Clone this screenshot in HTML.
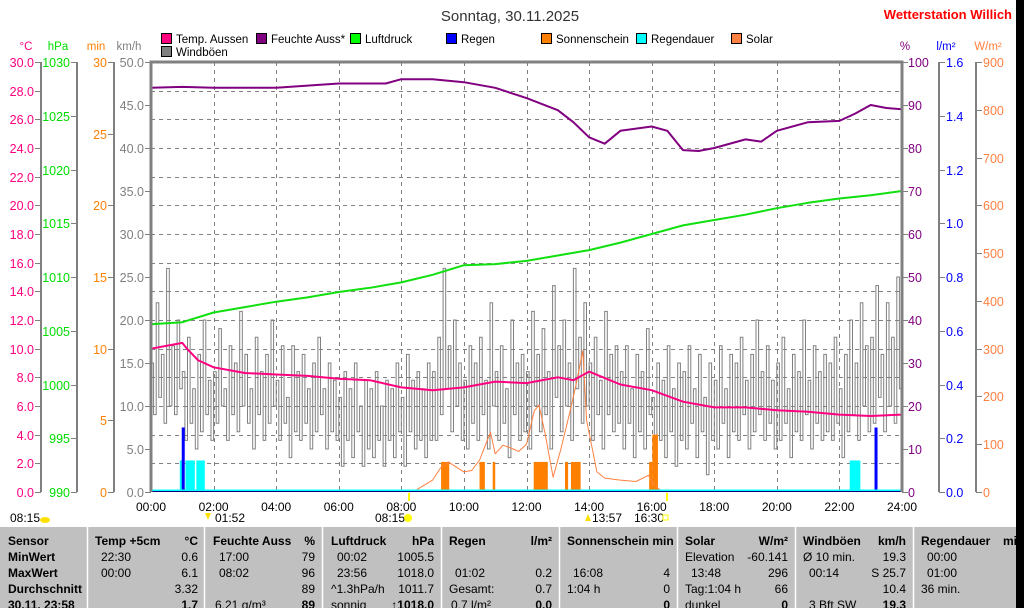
<!DOCTYPE html>
<html><head><meta charset="utf-8"><style>
html,body{margin:0;padding:0;background:#fff;width:1024px;height:608px;overflow:hidden}
svg{display:block;font-family:"Liberation Sans",sans-serif}
</style></head><body>
<svg id="c" width="1024" height="608" viewBox="0 0 1024 608" xmlns="http://www.w3.org/2000/svg">
<rect x="0" y="0" width="1024" height="608" fill="#fff"/>
<g id="g"></g>
</svg>
<script>
// ---- data ----
const humTimes=[0,1,2,4,6,7.5,8,9,10,11,12,13,13.5,14,14.5,15,16,16.5,17,17.5,18,19,19.5,20,21,22,22.5,23,23.5,24];
const humVals=[94,94.2,94,94,95,95,96,96,95.3,94,91.6,88.8,86,82.5,81,84,85,84,79.5,79.3,80,82,81.5,84,86,86.3,88,90,89.3,89];
const presTimes=[0,1,2,3,4,5,6,7,8,9,10,11,12,13,14,15,16,17,18,19,20,21,22,23,24];
const presVals=[1005.6,1005.8,1006.7,1007.2,1007.7,1008.1,1008.6,1009.0,1009.5,1010.2,1011.1,1011.2,1011.5,1012.0,1012.5,1013.2,1014.0,1014.8,1015.3,1015.8,1016.4,1016.9,1017.3,1017.6,1018.0];
const tempTimes=[0,1,1.15,1.5,2,3,4,5,6,7,8,9,10,11,12,13,13.5,14,15,16,17,18,19,20,21,22,23,24];
const tempVals=[10.0,10.4,10.0,9.2,8.7,8.3,8.2,8.1,7.9,7.8,7.3,7.1,7.3,7.7,7.6,8.0,7.8,8.4,7.5,7.1,6.3,5.9,5.9,5.7,5.6,5.4,5.3,5.4];
// gust highs per 10-min bin
const gustVals=[15,22,16,26,17,20, 14,18,12,16,20,13, 14,19,12,17,15,21, 16,12,18,14,16,20, 13,17,11,17,14,16, 12,15,18,12,15,13,
 11,14,12,15,10,13, 12,14,10,13,12,15, 11,16,13,14,12,15, 14,18,26,17,20,15, 13,17,15,18,13,22, 14,17,12,20,15,16,
 14,21,16,19,14,24, 17,20,15,26,18,22, 15,18,13,21,16,17, 14,17,12,16,14,19, 11,15,13,17,12,15, 14,17,12,16,11,15,
 13,17,12,16,15,18, 13,16,20,14,17,13, 15,18,12,16,14,20, 13,17,14,16,15,18, 12,16,20,15,22,17, 18,24,16,22,18,25];
// gust lows per 10-min bin
const gustLow=[9,11,8,10,9,12, 6,8,5,7,9,6, 8,10,6,9,7,10, 8,5,9,6,8,10, 6,8,4,7,6,8, 5,7,9,5,7,6,
 3,6,4,7,3,5, 4,6,3,6,4,7, 3,7,5,6,4,6, 6,9,12,7,10,6, 5,8,6,9,5,10, 6,8,4,9,6,7,
 5,10,7,9,5,11, 7,10,6,12,8,10, 6,9,5,9,7,8, 5,8,4,7,5,9, 2,6,4,7,3,6, 5,8,4,7,2,6,
 5,8,4,7,6,9, 5,7,9,6,8,5, 6,8,4,7,6,9, 5,8,6,7,6,8, 4,7,9,6,10,7, 8,11,7,10,8,12];
const solarTimes=[8.25,8.5,9,9.25,9.5,10,10.25,10.5,10.75,10.85,11,11.25,11.5,11.75,12,12.25,12.4,12.6,12.85,13.1,13.4,13.6,13.8,13.92,14.25,14.5,15,15.5,15.9,16.1,16.25,16.5];
const solarVals=[0,5,25,50,63,42,45,67,109,125,80,98,92,85,100,170,182,120,31,90,171,230,296,150,42,29,25,22,35,15,5,0];
const sunStart=[9.27,10.5,10.92,12.23,13.23,13.42,15.92,16.02];
const sunEnd=[9.53,10.67,11.0,12.68,13.33,13.73,16.02,16.2];
const sunVals=[2.1,2.1,2.1,2.1,2.1,2.1,2.1,4.0];
const rainTimes=[1.03,23.17];
const rainVals=[0.24,0.24];
const durStart=[0.92,1.1,1.45,22.33];
const durEnd=[1.02,1.4,1.72,22.67];
const durVals=[2.2,2.2,2.2,2.2];
const timeLabels=["00:00","02:00","04:00","06:00","08:00","10:00","12:00","14:00","16:00","18:00","20:00","22:00","24:00"];
const cTicks=["0.0","2.0","4.0","6.0","8.0","10.0","12.0","14.0","16.0","18.0","20.0","22.0","24.0","26.0","28.0","30.0"];
const hpaTicks=["990","995","1000","1005","1010","1015","1020","1025","1030"];
const minTicks=["0","5","10","15","20","25","30"];
const kmhTicks=["0.0","5.0","10.0","15.0","20.0","25.0","30.0","35.0","40.0","45.0","50.0"];
const pctTicks=["0","10","20","30","40","50","60","70","80","90","100"];
const lTicks=["0.0","0.2","0.4","0.6","0.8","1.0","1.2","1.4","1.6"];
const wTicks=["0","100","200","300","400","500","600","700","800","900"];

// ---- scales ----
const X0=151,X1=902,Y0=62,Y1=492,H=Y1-Y0;
const x=h=>X0+h*(X1-X0)/24;
const yKmh=v=>Y1-v*H/50, yC=v=>Y1-v*H/30, yHpa=v=>Y1-(v-990)*H/40, yMin=v=>Y1-v*H/30;
const yPct=v=>Y1-v*H/100, yL=v=>Y1-v*H/1.6, yW=v=>Y1-v*H/900;

const NS="http://www.w3.org/2000/svg";
const G=document.getElementById('g');
function el(tag,attrs,parent){const e=document.createElementNS(NS,tag);for(const k in attrs)e.setAttribute(k,attrs[k]);(parent||G).appendChild(e);return e;}
function txt(s,xx,yy,attrs){const e=el('text',Object.assign({x:xx,y:yy,'font-size':12},attrs));e.textContent=s;return e;}

let t=txt("Sonntag, 30.11.2025",510,21,{'text-anchor':'middle','font-size':15,fill:'#333'});


t=txt("Wetterstation Willich",1012,19,{'text-anchor':'end','font-size':13,'font-weight':'bold',fill:'#f00'});



const legNames=["Temp. Aussen","Feuchte Auss*","Luftdruck","Regen","Sonnenschein","Regendauer","Solar","Windböen"];
const legCols=["#ff0080","#800080","#00ff00","#0000ff","#ff8000","#00ffff","#ff8040","#808080"];
const legX=[161,256,350,446,541,636,731,161];
const legY=[33,33,33,33,33,33,33,46];
for(let i=0;i<legNames.length;i++){
 const lg=el('g',{});
 
 
 el('rect',{x:legX[i]+0.5,y:legY[i]+0.5,width:10,height:10,fill:legCols[i],stroke:'#000'},lg);
 const tt=el('text',{x:legX[i]+15,y:legY[i]+10,'font-size':11.5,fill:'#000'},lg);tt.textContent=legNames[i];
}

const units=[["°C",26,"#ff0080"],["hPa",58,"#00dd00"],["min",96,"#ff8000"],["km/h",129,"#808080"],["%",905,"#800080"],["l/m²",946,"#0000ff"],["W/m²",988,"#ff8040"]];
units.forEach(u=>{const e=txt(u[0],u[1],50,{'text-anchor':'middle','font-size':11.5,fill:u[2]});
 
 });

const grid=el('g',{stroke:'#808080','stroke-width':1,'stroke-dasharray':'4,4'});


for(let i=1;i<15;i++){const yy=Math.round(Y0+i*H/15)+0.5;el('line',{x1:X0,x2:X1,y1:yy,y2:yy},grid);}
for(let h=2;h<24;h+=2){const xx=Math.round(x(h))+0.5;el('line',{x1:xx,x2:xx,y1:Y0,y2:Y1},grid);}

function axis(ax,labels,yf,color,side,name){
 const ag=el('g',{});
 
 
 el('line',{x1:ax,x2:ax,y1:Y0,y2:Y1,stroke:'#808080','stroke-width':2},ag);
 labels.forEach(lb=>{const yy=Math.round(yf(+lb));
  el('line',{x1:side<0?ax-6:ax,x2:side<0?ax:ax+6,y1:yy+0.5,y2:yy+0.5,stroke:'#808080'},ag);
  const e=el('text',{x:side<0?ax-7:ax+7,y:yy+5,'font-size':12.5,fill:color,'text-anchor':side<0?'end':'start'},ag);e.textContent=lb;});
 return ag;
}
axis(41,cTicks,yC,"#ff0080",-1,"y-axis-temperature");
axis(77,hpaTicks,yHpa,"#00dd00",-1,"y-axis-pressure");
axis(114,minTicks,yMin,"#ff8000",-1,"y-axis-minutes");
axis(939,lTicks,yL,"#0000ff",1,"y-axis-rain");
axis(976,wTicks,yW,"#ff8040",1,"y-axis-solar");
const kg=el('g',{});


kmhTicks.forEach(lb=>{const yy=Math.round(yKmh(+lb));el('line',{x1:145,x2:151,y1:yy+.5,y2:yy+.5,stroke:'#808080'},kg);
 const e=el('text',{x:144,y:yy+5,'font-size':12.5,fill:'#808080','text-anchor':'end'},kg);e.textContent=lb;});
const pg=el('g',{});


pctTicks.forEach(lb=>{const yy=Math.round(yPct(+lb));el('line',{x1:902,x2:908,y1:yy+.5,y2:yy+.5,stroke:'#808080'},pg);
 const e=el('text',{x:908,y:yy+5,'font-size':12.5,fill:'#800080'},pg);e.textContent=lb;});

// gusts: within each 10-min bin, step high then low
let d="";
gustVals.forEach((v,i)=>{const x0=x(i/6),x1=x((i+1)/6),w=(x1-x0)/2,hi=yKmh(v),lo=yKmh(gustLow[i]);
 for(let k=0;k<2;k++){const yy=(k%2)?lo:hi;
  d+=((i||k)?"L":"M")+(x0+k*w).toFixed(1)+","+yy.toFixed(1)+"L"+(x0+(k+1)*w).toFixed(1)+","+yy.toFixed(1);}});
let p=el('path',{d:d,fill:'none',stroke:'#808080','stroke-width':1});



function bars(starts,ends,vals,yf,color,name){
 starts.forEach((s,i)=>{const r=el('rect',{x:x(s),y:yf(vals[i]),width:Math.max(2,x(ends[i])-x(s)),height:Y1-yf(vals[i]),fill:color});
  
  });
}
bars(durStart,durEnd,durVals,yMin,"#00ffff","rain-duration-bar");
bars(sunStart,sunEnd,sunVals,yMin,"#ff8000","sunshine-bar");
rainTimes.forEach((h,i)=>{const r=el('rect',{x:x(h)-1.5,y:yL(rainVals[i]),width:3,height:Y1-yL(rainVals[i]),fill:'#0000ff'});
 
 });

function line(ts,vs,yf,color,w,name){
 const dd=ts.map((h,i)=>(i?"L":"M")+x(h).toFixed(1)+","+yf(vs[i]).toFixed(1)).join("");
 const pp=el('path',{d:dd,fill:'none',stroke:color,'stroke-width':w,'stroke-linejoin':'round'});
 
 
}
line(solarTimes,solarVals,yW,"#ff8040",1,"solar-line");
line(humTimes,humVals,yPct,"#800080",2,"humidity-line");
line(presTimes,presVals,yHpa,"#10e010",2,"pressure-line");
line(tempTimes,tempVals,yC,"#ff0080",2,"temperature-line");

el('line',{x1:X0,x2:X1,y1:490.5,y2:490.5,stroke:'#00ffff','stroke-width':2});
el('line',{x1:X0,x2:X1,y1:491.5,y2:491.5,stroke:'#000080','stroke-width':1});
const fr=el('path',{d:`M${X0},${Y1}V${Y0}H${X1}V${Y1}`,fill:'none',stroke:'#808080','stroke-width':3});



timeLabels.forEach((lb,i)=>{const e=txt(lb,x(i*2),511,{'text-anchor':'middle','font-size':12,fill:'#000'});
 
 });
el('rect',{x:408,y:493,width:2,height:8,fill:'#ffff00'});
el('rect',{x:666,y:493,width:2,height:8,fill:'#ffff00'});
txt("08:15",10,522,{fill:'#000'});
el('ellipse',{cx:45,cy:520,rx:5,ry:3,fill:'#ffe000'});
txt("01:52",215,522,{fill:'#000'});
el('path',{d:'M205,513 L211,513 L208,520 Z',fill:'#ffe000'});
txt("08:15",375,522,{fill:'#000'});
el('circle',{cx:408,cy:518,r:4,fill:'#ffff00'});
txt("13:57",592,522,{fill:'#000'});
el('path',{d:'M585,521 L591,521 L588,514 Z',fill:'#ffe000'});
txt("16:30",634,522,{fill:'#000'});
el('rect',{x:663,y:515,width:5,height:5,fill:'none',stroke:'#ffff00'});

const tb=el('g',{});


el('rect',{x:0,y:527,width:1024,height:81,fill:'#c0c0c0'},tb);
[87,204,322,441,559,677,795,913].forEach(xx=>el('line',{x1:xx+.5,x2:xx+.5,y1:527,y2:608,stroke:'#fff','stroke-width':1.5},tb));
const rows=[545,561,577,593,609];
function tc(s,xx,r,anchor,bold){const e=el('text',{x:xx,y:rows[r],'font-size':12,fill:'#000','text-anchor':anchor||'start','font-weight':bold?'bold':'normal'},tb);e.textContent=s;}
["Sensor","MinWert","MaxWert","Durchschnitt","30.11. 23:58"].forEach((s,i)=>tc(s,8,i,'start',true));
tc("Temp +5cm",95,0,'start',true);tc("°C",198,0,'end',true);
tc("22:30",101,1);tc("0.6",198,1,'end');tc("00:00",101,2);tc("6.1",198,2,'end');tc("3.32",198,3,'end');tc("1.7",198,4,'end',true);
tc("Feuchte Auss",213,0,'start',true);tc("%",315,0,'end',true);
tc("17:00",219,1);tc("79",315,1,'end');tc("08:02",219,2);tc("96",315,2,'end');tc("89",315,3,'end');tc("6.21 g/m³",215,4);tc("89",315,4,'end',true);
tc("Luftdruck",331,0,'start',true);tc("hPa",434,0,'end',true);
tc("00:02",337,1);tc("1005.5",434,1,'end');tc("23:56",337,2);tc("1018.0",434,2,'end');tc("^1.3hPa/h",331,3);tc("1011.7",434,3,'end');tc("sonnig",331,4);tc("↑1018.0",434,4,'end',true);
tc("Regen",449,0,'start',true);tc("l/m²",552,0,'end',true);
tc("01:02",455,2);tc("0.2",552,2,'end');tc("Gesamt:",449,3);tc("0.7",552,3,'end');tc("0.7 l/m²",451,4);tc("0.0",552,4,'end',true);
tc("Sonnenschein min",567,0,'start',true);
tc("16:08",573,2);tc("4",670,2,'end');tc("1:04 h",567,3);tc("0",670,3,'end');tc("0",670,4,'end',true);
tc("Solar",685,0,'start',true);tc("W/m²",788,0,'end',true);
tc("Elevation",685,1);tc("-60.141",788,1,'end');tc("13:48",691,2);tc("296",788,2,'end');tc("Tag:1:04 h",685,3);tc("66",788,3,'end');tc("dunkel",685,4);tc("0",788,4,'end',true);
tc("Windböen",803,0,'start',true);tc("km/h",906,0,'end',true);
tc("Ø 10 min.",803,1);tc("19.3",906,1,'end');tc("00:14",809,2);tc("S 25.7",906,2,'end');tc("10.4",906,3,'end');tc("3 Bft SW",809,4);tc("19.3",906,4,'end',true);
tc("Regendauer",921,0,'start',true);tc("mi",1003,0,'start',true);
tc("00:00",927,1);tc("01:00",927,2);tc("36 min.",921,3);

el('rect',{x:1016,y:0,width:8,height:608,fill:'#000'});
</script>
</body></html>
